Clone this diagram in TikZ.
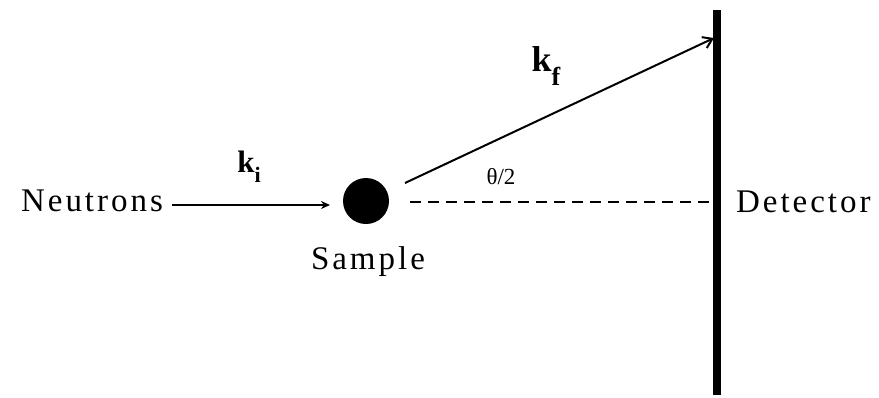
\documentclass[tikz,border=0pt]{standalone}
\usepackage{fontspec}
\setmainfont{Liberation Serif}
\newfontfamily\spaced[LetterSpace=9]{Liberation Serif}
\usetikzlibrary{arrows.meta}
\begin{document}
\begin{tikzpicture}[x=1pt,y=-1pt,
  lbl/.style={font=\spaced\fontsize{33}{36}\selectfont, inner sep=0pt},
  vec/.style={line width=2pt},
  vlbl/.style={inner sep=0pt}]
\useasboundingbox (0,0) rectangle (879,397);
\node[lbl] (neu) at (92,201) {Neutrons};
\fill (366,201) circle[radius=23];
\coordinate (samp) at (366,201);
\node[lbl] (smp) at (368,262) {Sample};
\node[lbl, anchor=west] (det) at (736,202) {Detector};
\draw[line width=8pt] (717,10) coordinate (dtop) -- (717,395) coordinate (dbot);
\coordinate (ain) at (330,205);
\coordinate (aout) at (172,205);
\draw[vec,-{Stealth[length=9pt,width=8pt]}] (aout) -- (ain);
\coordinate (kfs) at (405,183);
\coordinate (kfe) at (714,38);
\draw[vec,-{Straight Barb[length=9pt,width=12pt,line width=2pt]}] (kfs) -- (kfe);
\coordinate (ds) at (410,202);
\coordinate (de) at (710,202);
\draw[vec,dash pattern=on 11pt off 7pt] (ds) -- (de);
\node[vlbl] (ki) at (249,167) {\fontsize{31}{34}\selectfont\bfseries k\raisebox{-0.32em}{\fontsize{22}{24}\selectfont i}};
\node[vlbl] (kf) at (546,66) {\fontsize{36}{40}\selectfont\bfseries k\raisebox{-0.38em}{\fontsize{26}{28}\selectfont f}};
\node[vlbl] (th) at (501,177) {\fontsize{23}{26}\selectfont θ/2};
\end{tikzpicture}
\end{document}
